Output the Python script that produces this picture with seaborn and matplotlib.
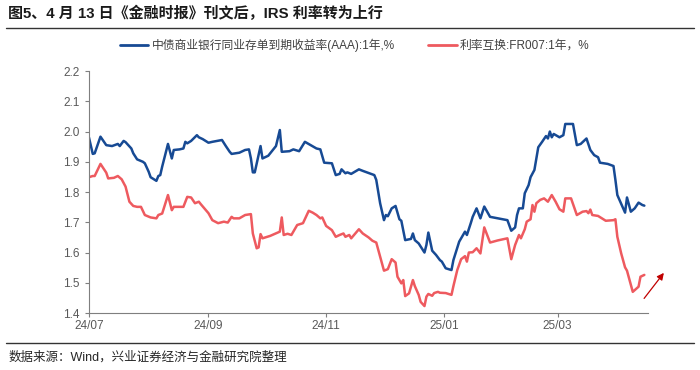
import pandas as pd
import matplotlib.pyplot as plt
import matplotlib.dates as mdates
from matplotlib.lines import Line2D
import seaborn as sns

# 中债商业银行同业存单到期收益率(AAA):1年
ncd_dates = [
    "2024-07-01", "2024-07-03", "2024-07-04", "2024-07-07", "2024-07-10", "2024-07-13",
    "2024-07-16", "2024-07-17", "2024-07-19", "2024-07-20", "2024-07-23", "2024-07-24",
    "2024-07-26", "2024-07-29", "2024-07-30", "2024-08-01", "2024-08-02", "2024-08-05",
    "2024-08-06", "2024-08-07", "2024-08-08", "2024-08-11", "2024-08-13", "2024-08-14",
    "2024-08-17", "2024-08-19", "2024-08-20", "2024-08-21", "2024-08-23", "2024-08-26",
    "2024-08-27", "2024-08-29", "2024-09-01", "2024-09-03", "2024-09-08", "2024-09-10",
    "2024-09-12", "2024-09-13", "2024-09-17", "2024-09-20", "2024-09-22", "2024-09-23",
    "2024-09-24", "2024-09-25", "2024-09-27", "2024-09-28", "2024-09-29", "2024-10-02",
    "2024-10-06", "2024-10-08", "2024-10-09", "2024-10-13", "2024-10-15", "2024-10-18",
    "2024-10-21", "2024-10-24", "2024-10-27", "2024-10-29", "2024-10-31", "2024-11-04",
    "2024-11-06", "2024-11-08", "2024-11-09", "2024-11-11", "2024-11-12", "2024-11-14",
    "2024-11-18", "2024-11-20", "2024-11-26", "2024-11-27", "2024-11-29", "2024-12-01",
    "2024-12-02", "2024-12-03", "2024-12-05", "2024-12-07", "2024-12-09", "2024-12-10",
    "2024-12-12", "2024-12-15", "2024-12-16", "2024-12-17", "2024-12-19", "2024-12-22",
    "2024-12-23", "2024-12-24", "2024-12-26", "2024-12-28", "2024-12-30", "2024-12-31",
    "2025-01-02", "2025-01-05", "2025-01-06", "2025-01-09", "2025-01-12", "2025-01-13",
    "2025-01-15", "2025-01-16", "2025-01-18", "2025-01-20", "2025-01-22", "2025-01-25",
    "2025-02-03", "2025-02-05", "2025-02-07", "2025-02-08", "2025-02-09", "2025-02-11",
    "2025-02-12", "2025-02-14", "2025-02-15", "2025-02-17", "2025-02-19", "2025-02-21",
    "2025-02-23", "2025-02-24", "2025-02-25", "2025-02-26", "2025-02-27", "2025-03-02",
    "2025-03-04", "2025-03-05", "2025-03-09", "2025-03-11", "2025-03-13", "2025-03-16",
    "2025-03-18", "2025-03-20", "2025-03-22", "2025-03-23", "2025-03-27", "2025-03-30",
    "2025-03-31", "2025-04-01", "2025-04-05", "2025-04-06", "2025-04-08", "2025-04-10",
    "2025-04-12", "2025-04-14", "2025-04-15",
]
ncd_vals = [
    1.981, 1.926, 1.928, 1.983, 1.955, 1.952,
    1.959, 1.952, 1.969, 1.965, 1.944, 1.928,
    1.908, 1.900, 1.895, 1.867, 1.849, 1.837,
    1.853, 1.856, 1.884, 1.959, 1.911, 1.939,
    1.941, 1.944, 1.966, 1.961, 1.969, 1.988,
    1.981, 1.975, 1.963, 1.966, 1.972, 1.952,
    1.933, 1.926, 1.930, 1.939, 1.941, 1.911,
    1.865, 1.865, 1.922, 1.952, 1.911, 1.920,
    1.952, 2.005, 1.933, 1.935, 1.941, 1.935,
    1.966, 1.955, 1.944, 1.941, 1.897, 1.895,
    1.856, 1.860, 1.875, 1.862, 1.865, 1.860,
    1.875, 1.870, 1.856, 1.840, 1.763, 1.707,
    1.724, 1.720, 1.746, 1.754, 1.710, 1.705,
    1.641, 1.645, 1.663, 1.641, 1.630, 1.600,
    1.625, 1.666, 1.606, 1.592, 1.575, 1.570,
    1.548, 1.542, 1.575, 1.636, 1.669, 1.658,
    1.697, 1.718, 1.746, 1.713, 1.752, 1.718,
    1.707, 1.672, 1.683, 1.724, 1.746, 1.746,
    1.796, 1.823, 1.849, 1.873, 1.948, 1.966,
    1.985, 1.977, 2.000, 1.981, 1.992, 1.981,
    1.988, 2.025, 2.025, 1.955, 1.959, 1.977,
    1.939, 1.922, 1.915, 1.897, 1.893, 1.886,
    1.840, 1.790, 1.732, 1.782, 1.735, 1.746,
    1.765, 1.757, 1.755,
]

# 利率互换:FR007:1年
irs_dates = [
    "2024-07-01", "2024-07-03", "2024-07-04", "2024-07-07", "2024-07-10", "2024-07-11",
    "2024-07-14", "2024-07-16", "2024-07-18", "2024-07-20", "2024-07-22", "2024-07-24",
    "2024-07-26", "2024-07-28", "2024-07-30", "2024-08-02", "2024-08-05", "2024-08-06",
    "2024-08-08", "2024-08-11", "2024-08-13", "2024-08-14", "2024-08-19", "2024-08-21",
    "2024-08-23", "2024-08-25", "2024-08-27", "2024-08-28", "2024-09-01", "2024-09-03",
    "2024-09-06", "2024-09-09", "2024-09-11", "2024-09-13", "2024-09-14", "2024-09-17",
    "2024-09-20", "2024-09-23", "2024-09-24", "2024-09-26", "2024-09-27", "2024-09-28",
    "2024-09-29", "2024-10-03", "2024-10-08", "2024-10-09", "2024-10-10", "2024-10-12",
    "2024-10-14", "2024-10-17", "2024-10-20", "2024-10-23", "2024-10-25", "2024-10-27",
    "2024-10-29", "2024-10-30", "2024-11-01", "2024-11-04", "2024-11-06", "2024-11-08",
    "2024-11-10", "2024-11-11", "2024-11-13", "2024-11-14", "2024-11-18", "2024-11-20",
    "2024-11-23", "2024-11-25", "2024-11-27", "2024-11-29", "2024-12-01", "2024-12-03",
    "2024-12-05", "2024-12-07", "2024-12-08", "2024-12-10", "2024-12-11", "2024-12-12",
    "2024-12-14", "2024-12-16", "2024-12-17", "2024-12-19", "2024-12-20", "2024-12-22",
    "2024-12-23", "2024-12-24", "2024-12-26", "2024-12-27", "2024-12-29", "2024-12-30",
    "2025-01-02", "2025-01-05", "2025-01-06", "2025-01-08", "2025-01-10", "2025-01-12",
    "2025-01-13", "2025-01-14", "2025-01-16", "2025-01-18", "2025-01-20", "2025-01-22",
    "2025-01-25", "2025-01-29", "2025-02-03", "2025-02-05", "2025-02-07", "2025-02-09",
    "2025-02-10", "2025-02-12", "2025-02-13", "2025-02-15", "2025-02-16", "2025-02-17",
    "2025-02-18", "2025-02-20", "2025-02-22", "2025-02-24", "2025-02-26", "2025-02-28",
    "2025-03-02", "2025-03-04", "2025-03-05", "2025-03-08", "2025-03-11", "2025-03-14",
    "2025-03-16", "2025-03-17", "2025-03-18", "2025-03-19", "2025-03-22", "2025-03-26",
    "2025-03-30", "2025-03-31", "2025-04-01", "2025-04-03", "2025-04-05", "2025-04-06",
    "2025-04-08", "2025-04-09", "2025-04-12", "2025-04-13", "2025-04-14", "2025-04-15",
]
irs_vals = [
    1.849, 1.853, 1.853, 1.893, 1.864, 1.845,
    1.847, 1.853, 1.842, 1.818, 1.768, 1.754,
    1.751, 1.751, 1.724, 1.716, 1.713, 1.724,
    1.729, 1.790, 1.740, 1.751, 1.751, 1.784,
    1.782, 1.763, 1.768, 1.760, 1.730, 1.707,
    1.697, 1.702, 1.699, 1.718, 1.713, 1.713,
    1.724, 1.727, 1.663, 1.614, 1.617, 1.661,
    1.647, 1.655, 1.669, 1.716, 1.658, 1.662,
    1.658, 1.691, 1.697, 1.738, 1.732, 1.724,
    1.713, 1.716, 1.688, 1.674, 1.652, 1.658,
    1.663, 1.652, 1.658, 1.647, 1.677, 1.663,
    1.650, 1.639, 1.633, 1.586, 1.540, 1.545,
    1.578, 1.567, 1.520, 1.498, 1.509, 1.456,
    1.465, 1.509, 1.489, 1.460, 1.437, 1.423,
    1.454, 1.463, 1.457, 1.466, 1.470, 1.467,
    1.466, 1.460, 1.489, 1.542, 1.578, 1.588,
    1.570, 1.600, 1.601, 1.614, 1.597, 1.683,
    1.633, 1.640, 1.647, 1.578, 1.625, 1.658,
    1.647, 1.677, 1.702, 1.710, 1.757, 1.735,
    1.763, 1.774, 1.779, 1.768, 1.790, 1.768,
    1.743, 1.735, 1.779, 1.779, 1.724, 1.735,
    1.737, 1.730, 1.742, 1.724, 1.721, 1.705,
    1.707, 1.710, 1.652, 1.597, 1.551, 1.540,
    1.493, 1.470, 1.487, 1.520, 1.523, 1.526,
]

ncd_label = "中债商业银行同业存单到期收益率(AAA):1年,%"
irs_label = "利率互换:FR007:1年，%"
title = "图5、4 月 13 日《金融时报》刊文后，IRS 利率转为上行"
source = "数据来源：Wind，兴业证券经济与金融研究院整理"

df = pd.concat([
    pd.DataFrame({"date": pd.to_datetime(ncd_dates), "value": ncd_vals, "series": ncd_label}),
    pd.DataFrame({"date": pd.to_datetime(irs_dates), "value": irs_vals, "series": irs_label}),
])

sns.set_theme(style="white")
plt.rcParams["font.family"] = ["Liberation Sans", "Noto Sans CJK SC", "DejaVu Sans"]

fig = plt.figure(figsize=(7, 3.7), dpi=100)
ax = fig.add_axes([0.127, 0.154, 0.799, 0.654])

palette = {ncd_label: "#174A94", irs_label: "#EE5A5F"}
sns.lineplot(data=df, x="date", y="value", hue="series", palette=palette,
             linewidth=1.8, ax=ax, legend=False)

ax.set_xlim(pd.Timestamp("2024-07-01"), pd.Timestamp("2025-04-17"))
ax.set_ylim(1.4, 2.2)
ax.set_yticks([1.4, 1.5, 1.6, 1.7, 1.8, 1.9, 2.0, 2.1, 2.2])
ax.yaxis.set_major_formatter(plt.FormatStrFormatter("%.1f"))
ax.xaxis.set_major_locator(mdates.MonthLocator(bymonth=[1, 3, 5, 7, 9, 11]))
ax.xaxis.set_major_formatter(mdates.DateFormatter("%y/%m"))
ax.set_xlabel("")
ax.set_ylabel("")

for side in ["top", "right"]:
    ax.spines[side].set_visible(False)
for side in ["left", "bottom"]:
    ax.spines[side].set_color("#7f7f7f")
    ax.spines[side].set_linewidth(0.8)
ax.tick_params(axis="both", colors="#7f7f7f", labelcolor="#595959", labelsize=8.5,
               direction="out", length=3, width=0.8, left=True, bottom=True)
ax.tick_params(axis="x", pad=2)

# 箭头
ax.annotate("", xy=(pd.Timestamp("2025-04-26"), 1.540), xytext=(pd.Timestamp("2025-04-14"), 1.441),
            arrowprops=dict(arrowstyle="-|>", color="#C00000", lw=0.9, mutation_scale=10),
            annotation_clip=False)

# 图例
handles = [Line2D([], [], color=palette[ncd_label], lw=2),
           Line2D([], [], color=palette[irs_label], lw=2)]
fig.legend(handles, [ncd_label, irs_label], loc="center", bbox_to_anchor=(0.507, 0.878),
           ncol=2, frameon=False, fontsize=8.5, handlelength=2.4, handletextpad=0.3,
           columnspacing=2.8, labelcolor="#404040")

fig.text(0.012, 0.965, title, fontsize=10.8, fontweight="bold", color="#1a1a1a", va="center")
fig.add_artist(Line2D([0.008, 0.992], [0.925, 0.925], color="#333333", lw=1.0))
fig.add_artist(Line2D([0.008, 0.992], [0.073, 0.073], color="#333333", lw=1.0))
fig.text(0.012, 0.035, source, fontsize=9, color="#262626", va="center")

fig.savefig("out.png", dpi=100)
